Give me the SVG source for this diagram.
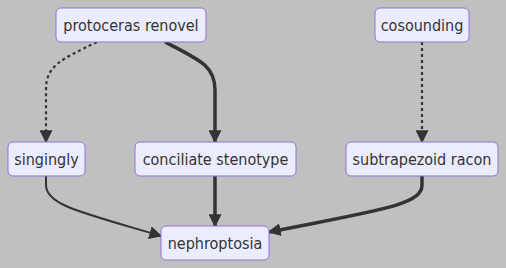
<svg xmlns="http://www.w3.org/2000/svg" width="506" height="268" viewBox="0 0 506 268">
  <style>
    .node rect { fill: #ECECFF; stroke: #9370DB; stroke-width: 1; }
    .node text { font-family: "DejaVu Sans Condensed", "DejaVu Sans", sans-serif; font-stretch: condensed; font-size: 16px; fill: #333; text-anchor: middle; dominant-baseline: central; }
    .edge { fill: none; stroke: #333; }
    .normal { stroke-width: 2; }
    .thick { stroke-width: 3.5; }
    .dotted { stroke-width: 2.2; stroke-dasharray: 3 3; }
  </style>
  <defs>
    <marker id="arrow" viewBox="0 0 10 10" refX="9" refY="5" markerUnits="userSpaceOnUse" markerWidth="13" markerHeight="13" orient="auto">
      <path d="M0,0 L10,5 L0,10 z" fill="#333"/>
    </marker>
  </defs>
  <rect width="506" height="268" fill="#C0C0C0"/>
  <g id="edges">
    <path class="edge dotted" d="M97,42 C60,60 46,66 46,90 L46,142" marker-end="url(#arrow)"/>
    <path class="edge thick" d="M165,42 C200,60 215,66 215,90 L215,142" marker-end="url(#arrow)"/>
    <path class="edge dotted" d="M422,42 L422,142" marker-end="url(#arrow)"/>
    <path class="edge normal" d="M46,176 L46,185 C46,205 80,212 161,236" marker-end="url(#arrow)"/>
    <path class="edge thick" d="M215,176 L215,226" marker-end="url(#arrow)"/>
    <path class="edge thick" d="M422,176 L422,185 C422,205 380,210 269,232" marker-end="url(#arrow)"/>
  </g>
  <g id="protoceras-renovel" class="node">
    <rect x="56" y="8" width="150" height="34" rx="5"/>
    <text x="131" y="25">protoceras renovel</text>
  </g>
  <g id="cosounding" class="node">
    <rect x="375" y="8" width="94" height="34" rx="5"/>
    <text x="422" y="25">cosounding</text>
  </g>
  <g id="singingly" class="node">
    <rect x="8" y="142" width="77" height="34" rx="5"/>
    <text x="46.5" y="159">singingly</text>
  </g>
  <g id="conciliate-stenotype" class="node">
    <rect x="135" y="142" width="161" height="34" rx="5"/>
    <text x="215.5" y="159">conciliate stenotype</text>
  </g>
  <g id="subtrapezoid-racon" class="node">
    <rect x="346" y="142" width="152" height="34" rx="5"/>
    <text x="422" y="159">subtrapezoid racon</text>
  </g>
  <g id="nephroptosia" class="node">
    <rect x="161" y="226" width="108" height="34" rx="5"/>
    <text x="215" y="243">nephroptosia</text>
  </g>
</svg>
